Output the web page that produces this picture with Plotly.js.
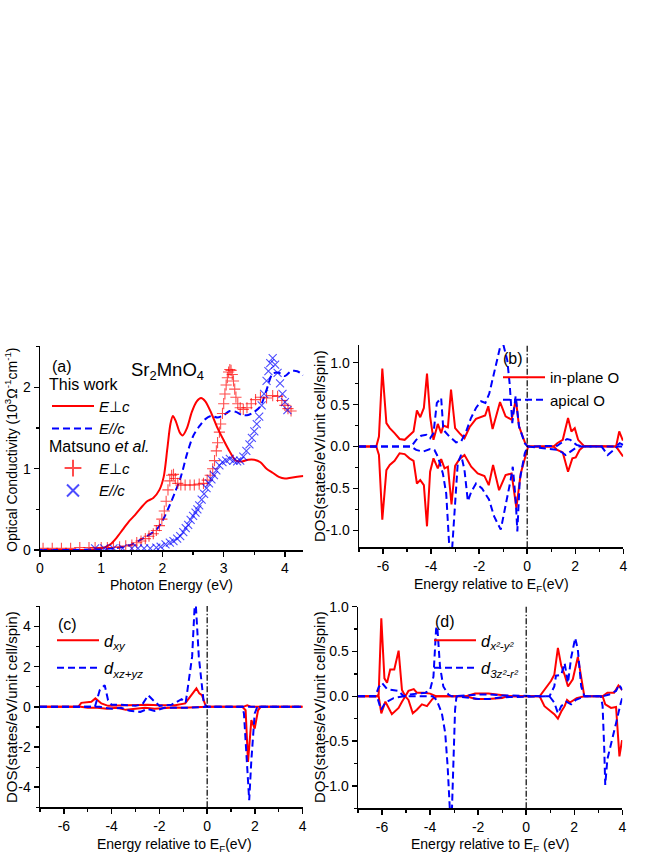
<!DOCTYPE html>
<html>
<head>
<meta charset="utf-8">
<script src="https://cdn.plot.ly/plotly-3.0.1.min.js"></script>
<style>html,body{margin:0;padding:0;background:#fff;}#chart{width:664px;height:860px;}</style>
</head>
<body>
<div id="chart"></div>
<script>
// ---------------- Panel (a): optical conductivity ----------------
const aCalcPerpE = [0, 0.5, 0.9, 1.05, 1.15, 1.25, 1.35, 1.45, 1.55, 1.65, 1.75, 1.85, 1.95, 2.02, 2.08, 2.13, 2.17, 2.22, 2.28, 2.33, 2.4, 2.48, 2.56, 2.63, 2.7, 2.8, 2.9, 3.0, 3.1, 3.2, 3.3, 3.4, 3.5, 3.6, 3.7, 3.8, 3.9, 4.0, 4.1, 4.2, 4.3];
const aCalcPerpS = [0, 0, 0.01, 0.03, 0.07, 0.15, 0.25, 0.35, 0.43, 0.52, 0.6, 0.64, 0.74, 0.9, 1.25, 1.55, 1.65, 1.58, 1.45, 1.41, 1.5, 1.7, 1.83, 1.87, 1.83, 1.68, 1.5, 1.35, 1.21, 1.1, 1.09, 1.11, 1.11, 1.08, 1.0, 0.95, 0.9, 0.88, 0.89, 0.9, 0.91];
const aCalcParE = [0, 0.5, 1.0, 1.3, 1.5, 1.7, 1.9, 2.0, 2.1, 2.2, 2.3, 2.4, 2.5, 2.6, 2.7, 2.8, 2.9, 3.0, 3.1, 3.2, 3.3, 3.4, 3.5, 3.6, 3.7, 3.8, 3.9, 4.0, 4.1, 4.2, 4.3];
const aCalcParS = [0, 0, 0.01, 0.03, 0.07, 0.15, 0.25, 0.36, 0.52, 0.7, 0.9, 1.18, 1.4, 1.52, 1.61, 1.65, 1.63, 1.66, 1.71, 1.7, 1.66, 1.66, 1.7, 1.77, 1.97, 2.17, 2.18, 2.14, 2.2, 2.2, 2.15];
const aExpPerpE = [0.05, 0.2, 0.35, 0.5, 0.65, 0.8, 0.9, 1.0, 1.1, 1.2, 1.3, 1.4, 1.5, 1.58, 1.65, 1.72, 1.78, 1.85, 1.9, 1.95, 1.99, 2.03, 2.06, 2.09, 2.12, 2.15, 2.18, 2.21, 2.25, 2.3, 2.37, 2.45, 2.52, 2.6, 2.67, 2.73, 2.78, 2.82, 2.85, 2.88, 2.9, 2.93, 2.95, 2.98, 3.0, 3.02, 3.04, 3.06, 3.08, 3.1, 3.12, 3.14, 3.16, 3.18, 3.2, 3.23, 3.27, 3.32, 3.38, 3.45, 3.52, 3.6, 3.7, 3.8, 3.88, 3.95, 4.0, 4.05, 4.1];
const aExpPerpS = [0.02, 0.02, 0.02, 0.02, 0.03, 0.03, 0.03, 0.03, 0.03, 0.03, 0.04, 0.05, 0.06, 0.09, 0.11, 0.14, 0.17, 0.2, 0.24, 0.3, 0.38, 0.48, 0.6, 0.74, 0.85, 0.92, 0.93, 0.88, 0.82, 0.8, 0.8, 0.8, 0.8, 0.81, 0.82, 0.86, 0.92, 1.0, 1.1, 1.22, 1.32, 1.45, 1.55, 1.68, 1.8, 1.92, 2.03, 2.12, 2.19, 2.22, 2.21, 2.16, 2.08, 1.98, 1.88, 1.8, 1.75, 1.73, 1.75, 1.8, 1.85, 1.88, 1.87, 1.9, 1.89, 1.84, 1.78, 1.74, 1.71];
const aExpParE = [0.9, 1.05, 1.2, 1.35, 1.5, 1.6, 1.7, 1.8, 1.9, 1.97, 2.05, 2.12, 2.18, 2.24, 2.29, 2.34, 2.38, 2.42, 2.46, 2.5, 2.54, 2.57, 2.6, 2.64, 2.68, 2.72, 2.76, 2.8, 2.84, 2.88, 2.93, 2.98, 3.04, 3.1, 3.16, 3.22, 3.27, 3.32, 3.37, 3.42, 3.46, 3.5, 3.54, 3.58, 3.62, 3.66, 3.7, 3.73, 3.76, 3.8, 3.84, 3.88, 3.92, 3.96, 4.0, 4.04];
const aExpParS = [0.02, 0.02, 0.02, 0.02, 0.02, 0.02, 0.02, 0.02, 0.03, 0.04, 0.07, 0.09, 0.11, 0.14, 0.17, 0.22, 0.27, 0.31, 0.37, 0.42, 0.46, 0.5, 0.55, 0.62, 0.69, 0.76, 0.82, 0.87, 0.92, 0.98, 1.04, 1.08, 1.1, 1.12, 1.1, 1.09, 1.1, 1.15, 1.22, 1.3, 1.38, 1.46, 1.55, 1.64, 1.78, 1.92, 2.08, 2.2, 2.3, 2.36, 2.28, 2.18, 2.05, 1.92, 1.82, 1.72];

// ---------------- Panel (b): O 2p DOS ----------------
const bInUpE = [-7, -6.28, -6.17, -6.03, -5.86, -5.72, -5.52, -5.31, -5.1, -4.9, -4.73, -4.59, -4.45, -4.3, -4.17, -4.04, -3.9, -3.72, -3.58, -3.49, -3.3, -3.17, -3.0, -2.82, -2.61, -2.4, -2.13, -1.75, -1.62, -1.44, -1.13, -0.9, -0.65, -0.47, -0.34, -0.07, 0.04, 1.1, 1.25, 1.48, 1.7, 1.84, 1.98, 2.12, 2.35, 3.7, 3.83, 3.97, 4];
const bInUpD = [0, 0, 0.12, 0.93, 0.28, 0.22, 0.16, 0.09, 0.08, 0.14, 0.18, 0.43, 0.35, 0.46, 0.87, 0.36, 0.08, 0.27, 0.16, 0.25, 0.23, 0.68, 0.22, 0.16, 0.1, 0.23, 0.33, 0.37, 0.48, 0.21, 0.53, 0.36, 0.32, 0.56, 0.24, 0.03, 0, 0, 0.04, 0.08, 0.34, 0.18, 0.22, 0.08, 0.01, 0, 0.18, 0.08, 0.08];
const bInDnE = [-7, -6.28, -6.17, -6.03, -5.86, -5.72, -5.52, -5.31, -5.1, -4.9, -4.73, -4.59, -4.45, -4.3, -4.17, -4.04, -3.9, -3.72, -3.58, -3.44, -3.3, -3.15, -3.0, -2.82, -2.61, -2.33, -2.06, -1.78, -1.6, -1.42, -1.17, -0.9, -0.65, -0.45, -0.27, -0.04, 0.04, 1.1, 1.25, 1.48, 1.7, 1.88, 2.02, 2.18, 2.35, 3.7, 3.83, 3.97, 4];
const bInDnD = [0, 0, -0.1, -0.87, -0.28, -0.22, -0.17, -0.08, -0.09, -0.14, -0.17, -0.44, -0.4, -0.46, -0.95, -0.3, -0.14, -0.26, -0.15, -0.26, -0.24, -0.69, -0.23, -0.15, -0.1, -0.24, -0.32, -0.35, -0.46, -0.22, -0.52, -0.34, -0.32, -0.73, -0.32, -0.06, 0, 0, -0.04, -0.07, -0.3, -0.14, -0.13, -0.04, 0, 0, -0.06, -0.11, -0.11];
const bApUpE = [-7, -4.83, -4.62, -4.41, -4.2, -4.04, -3.9, -3.76, -3.58, -3.49, -3.24, -2.96, -2.75, -2.54, -2.34, -2.13, -1.92, -1.74, -1.58, -1.38, -1.17, -1.05, -0.83, -0.73, -0.62, -0.48, -0.34, -0.1, 0.02, 1.25, 1.5, 1.66, 1.8, 2.05, 2.3, 3.6, 3.73, 3.85, 4];
const bApUpD = [0, 0, 0.08, 0.13, 0.14, 0.1, 0.16, 0.52, 0.58, 0.2, 0.12, 0.05, 0.06, 0.18, 0.34, 0.46, 0.54, 0.52, 0.63, 0.89, 1.15, 1.28, 1.03, 0.75, 0.28, 0.6, 0.24, 0.04, 0, 0.01, 0.06, 0.09, 0.08, 0.02, 0, 0, 0.01, 0.04, 0.02];
const bApDnE = [-7, -4.83, -4.62, -4.34, -4.04, -3.86, -3.72, -3.51, -3.37, -3.28, -3.2, -3.12, -3.0, -2.89, -2.75, -2.61, -2.47, -2.33, -2.13, -1.88, -1.59, -1.38, -1.1, -0.9, -0.69, -0.6, -0.48, -0.41, -0.31, -0.1, 0.02, 1.3, 1.6, 1.8, 2.1, 3.1, 3.2, 3.35, 3.6, 3.75, 4];
const bApDnD = [0, 0, -0.04, -0.06, -0.03, -0.04, -0.12, -0.32, -0.56, -1.2, -1.4, -1.2, -0.63, -0.2, -0.1, -0.28, -0.65, -0.54, -0.44, -0.5, -0.63, -0.83, -0.99, -0.71, -0.4, -0.24, -0.63, -1.01, -0.4, -0.08, 0, -0.04, -0.1, -0.06, 0, 0, -0.04, -0.1, -0.04, 0, 0];

// ---------------- Panel (c): Mn t2g DOS ----------------
const cXyUpE = [-7, -5.4, -5.27, -4.85, -4.68, -4.43, -4.15, -3.5, -3.0, -2.5, -2.0, -1.5, -1.34, -0.92, -0.57, -0.45, -0.33, -0.22, -0.08, 0, 1.5, 1.68, 1.85, 4];
const cXyUpD = [0, 0, 0.2, 0.25, 0.42, 0.17, 0.05, 0.08, 0.1, 0.1, 0.08, 0.08, 0.08, 0.17, 0.75, 0.92, 0.67, 0.58, 0.1, 0, 0, 0.08, 0, 0];
const cXyDnE = [-7, -5.3, -5.0, -4.6, -4.2, -3.8, -3.4, -3.0, -2.6, -2.2, -1.8, -1.4, -1.0, -0.5, 0, 1.47, 1.61, 1.71, 1.85, 1.99, 2.13, 2.24, 4];
const cXyDnD = [0, 0, -0.05, -0.05, -0.1, -0.05, -0.15, -0.1, -0.05, -0.1, -0.05, -0.03, -0.05, -0.02, 0, 0, -0.17, -2.74, -0.66, -1.08, -0.17, 0, 0];
const cXzUpE = [-7, -4.7, -4.5, -4.29, -4.15, -4.0, -3.6, -3.0, -2.7, -2.47, -2.26, -2.0, -1.5, -1.07, -0.9, -0.63, -0.5, -0.35, -0.14, 0, 4];
const cXzUpD = [0, 0, 0.83, 1.08, 0.33, 0.1, 0.1, 0.05, 0.15, 0.58, 0.33, 0.05, 0.1, 0.38, 0.2, 2.5, 5.6, 2.5, 0.17, 0, 0];
const cXzDnE = [-7, -4.5, -4.0, -3.6, -3.24, -2.8, -2.5, -2.2, -1.8, -1.0, 0, 1.47, 1.54, 1.66, 1.76, 1.85, 1.99, 2.1, 4];
const cXzDnD = [0, 0, -0.1, -0.05, -0.2, -0.25, -0.1, -0.2, -0.05, -0.05, 0, 0, -0.33, -2.66, -4.65, -2.66, -0.33, 0, 0];

// ---------------- Panel (d): Mn eg DOS ----------------
const dX2UpE = [-7, -6.21, -6.14, -6.03, -5.9, -5.79, -5.66, -5.49, -5.31, -5.17, -5.03, -4.9, -4.68, -4.55, -4.27, -4.0, -3.73, -2.5, -2.13, -1.57, -0.88, -0.7, 0.56, 0.76, 1.03, 1.17, 1.32, 1.46, 1.6, 1.74, 1.94, 2.15, 2.29, 2.42, 3.18, 3.38, 3.66, 3.84, 4];
const dX2UpD = [0, 0, 0.02, 0.87, 0.2, 0.15, 0.3, 0.3, 0.51, 0.07, 0, 0.06, 0.08, 0.04, 0.04, 0.03, 0, 0, 0.03, 0.03, 0.01, 0, 0, 0.07, 0.17, 0.24, 0.54, 0.34, 0.24, 0.11, 0.19, 0.44, 0.19, 0, 0, 0.04, 0.04, 0.12, 0.07];
const dX2DnE = [-7, -6.14, -6.03, -5.86, -5.59, -5.31, -5.17, -5.03, -4.9, -4.72, -4.55, -4.34, -4.13, -3.9, -3.73, -2.5, -2.1, -1.6, -1.0, -0.8, 0.56, 0.76, 1.03, 1.17, 1.32, 1.46, 1.6, 1.7, 1.82, 2.1, 2.42, 3.18, 3.29, 3.53, 3.74, 3.8, 3.88, 3.99];
const dX2DnD = [0, 0, -0.19, -0.06, -0.2, -0.13, -0.06, 0, -0.04, -0.19, -0.15, -0.09, -0.11, -0.03, 0, 0, -0.03, -0.03, -0.02, 0, 0, -0.11, -0.17, -0.2, -0.25, -0.17, -0.11, -0.04, -0.07, -0.02, 0, 0, -0.09, -0.13, -0.12, -0.41, -0.67, -0.49];
const dZ2UpE = [-7, -6.28, -6.14, -6.0, -5.79, -5.52, -5.31, -5.1, -4.83, -4.55, -4.2, -4.0, -3.86, -3.75, -3.7, -3.59, -3.45, -3.24, -3.1, -2.0, -1.5, -1.0, 0.97, 1.17, 1.24, 1.46, 1.6, 1.74, 1.87, 2.04, 2.15, 2.29, 2.42, 3.18, 3.46, 3.74, 3.87, 4];
const dZ2UpD = [0, 0, 0.1, 0.15, 0.08, 0.07, 0.06, 0, 0.02, 0.03, 0.04, 0.07, 0.22, 0.75, 0.78, 0.34, 0.11, 0.02, 0, 0.02, 0.02, 0.01, 0, 0.11, 0.23, 0.24, 0.37, 0.15, 0.43, 0.65, 0.52, 0.11, 0, 0, 0.02, 0.06, 0.13, 0.07];
const dZ2DnE = [-7, -6.21, -6.04, -5.86, -5.52, -5.1, -3.9, -3.73, -3.51, -3.37, -3.27, -3.17, -3.1, -3.03, -2.96, -2.9, -2.0, -1.5, -1.0, 0.97, 1.17, 1.32, 1.46, 1.67, 1.87, 2.07, 2.42, 3.11, 3.18, 3.25, 3.29, 3.38, 3.53, 3.74, 3.94, 4];
const dZ2DnD = [0, 0, -0.15, -0.07, -0.02, 0, 0, -0.04, -0.19, -0.41, -0.78, -1.3, -1.35, -0.67, -0.15, 0, -0.03, -0.03, -0.01, 0, -0.07, -0.19, -0.11, -0.06, -0.09, -0.04, 0, 0, -0.11, -0.6, -0.99, -0.7, -0.52, -0.3, -0.07, -0.02];

// ---------------- Tick labels ----------------
const aXTicks = [0, 1, 2, 3, 4];
const aXTickText = ['0', '1', '2', '3', '4'];
const aYTicks = [0, 1, 2];
const aYTickText = ['0', '1', '2'];
const eTicks = [-6, -4, -2, 0, 2, 4];
const eTickText = ['-6', '-4', '-2', '0', '2', '4'];
const dosTicks = [-1, -0.5, 0, 0.5, 1];
const dosTickText = ['-1.0', '-0.5', '0.0', '0.5', '1.0'];
const cYTicks = [-4, -2, 0, 2, 4];
const cYTickText = ['-4', '-2', '0', '2', '4'];
const fermiLevel = 0;

// ---------------- Layout helpers ----------------
const W = 664, H = 860;
const FONT = 'Liberation Sans, Arial, Helvetica, sans-serif';
const RED = '#ff0000', BLUE = '#0000ff';
const DASH = '7px,4px';
const px = v => v / W;
const py = v => 1 - v / H;

function mainAxis(range, dom, tickvals, ticktext, minorDtick, anchor) {
  return {
    domain: dom, range: range, anchor: anchor,
    tickmode: 'array', tickvals: tickvals, ticktext: ticktext,
    ticks: 'outside', ticklen: 5, tickwidth: 1.5, tickcolor: '#000',
    minor: {tickmode: 'linear', tick0: 0, dtick: minorDtick, ticks: 'outside', ticklen: 3, tickwidth: 1.2, tickcolor: '#000'},
    showline: true, linecolor: '#000', linewidth: 1.5,
    showgrid: false, zeroline: false,
    tickfont: {family: FONT, size: 14, color: '#000'},
    fixedrange: true
  };
}
function mirrorAxis(range, over, side, anchor, tickvals, minorDtick) {
  return {
    overlaying: over, side: side, anchor: anchor, range: range,
    tickmode: 'array', tickvals: tickvals, showticklabels: false,
    ticks: 'inside', ticklen: 5, tickwidth: 1.5, tickcolor: '#000',
    minor: {tickmode: 'linear', tick0: 0, dtick: minorDtick, ticks: 'inside', ticklen: 3, tickwidth: 1.2, tickcolor: '#000'},
    showline: true, linecolor: '#000', linewidth: 1.5,
    showgrid: false, zeroline: false, fixedrange: true
  };
}

const dom = {
  ax: [px(40), px(303.3)], ay: [py(550), py(346)],
  bx: [px(359), px(623.3)], by: [py(547.3), py(345)],
  cx: [px(40), px(302.7)], cy: [py(807.3), py(606)],
  dx: [px(358), px(622.3)], dy: [py(808.3), py(606.7)]
};
const rA_x = [0, 4.3], rA_y = [0, 2.51];
const rE = [-7, 4];
const rB_y = [-1.2, 1.21], rC_y = [-5, 5.02], rD_y = [-1.25, 1.0];

function line(x, y, xa, ya, color, dash, name, legend, show, group) {
  return {x: x, y: y, xaxis: xa, yaxis: ya, type: 'scatter', mode: 'lines',
    line: {color: color, width: 2, dash: dash}, name: name, legend: legend,
    showlegend: show, hoverinfo: 'skip', legendgroup: group};
}

const traces = [];
// (a)
const ta1 = line(aCalcPerpE, aCalcPerpS, 'x', 'y', RED, 'solid', '<i>E</i>⊥<i>c</i>', 'legend', true, 'a1');
ta1.line.shape = 'spline'; ta1.line.smoothing = 0.8;
const ta2 = line(aCalcParE, aCalcParS, 'x', 'y', BLUE, DASH, '<i>E//c</i>', 'legend', true, 'a2');
ta2.line.shape = 'spline'; ta2.line.smoothing = 0.8;
const ta3 = {x: aExpPerpE, y: aExpPerpS, xaxis: 'x', yaxis: 'y', type: 'scatter', mode: 'markers',
  marker: {symbol: 'cross-thin-open', size: 8, color: 'rgba(255,0,0,0.7)', line: {color: 'rgba(255,0,0,0.7)', width: 1.1}},
  name: '<i>E</i>⊥<i>c</i>', legend: 'legend5', legendgroup: 'a3', hoverinfo: 'skip'};
const ta4 = {x: aExpParE, y: aExpParS, xaxis: 'x', yaxis: 'y', type: 'scatter', mode: 'markers',
  marker: {symbol: 'x-thin-open', size: 8, color: 'rgba(0,0,255,0.7)', line: {color: 'rgba(0,0,255,0.7)', width: 1.1}},
  name: '<i>E//c</i>', legend: 'legend5', legendgroup: 'a4', hoverinfo: 'skip'};
traces.push(ta1, ta2, ta3, ta4);
// (b)
traces.push(line(bInUpE, bInUpD, 'x2', 'y2', RED, 'solid', 'in-plane O', 'legend2', true, 'b1'));
traces.push(line(bInDnE, bInDnD, 'x2', 'y2', RED, 'solid', 'in-plane O', 'legend2', false, 'b1'));
traces.push(line(bApUpE, bApUpD, 'x2', 'y2', BLUE, DASH, 'apical O', 'legend2', true, 'b2'));
traces.push(line(bApDnE, bApDnD, 'x2', 'y2', BLUE, DASH, 'apical O', 'legend2', false, 'b2'));
// (c)
traces.push(line(cXyUpE, cXyUpD, 'x3', 'y3', RED, 'solid', '<i>d<sub>xy</sub></i>', 'legend3', true, 'c1'));
traces.push(line(cXyDnE, cXyDnD, 'x3', 'y3', RED, 'solid', '<i>d<sub>xy</sub></i>', 'legend3', false, 'c1'));
traces.push(line(cXzUpE, cXzUpD, 'x3', 'y3', BLUE, DASH, '<i>d<sub>xz+yz</sub></i>', 'legend3', true, 'c2'));
traces.push(line(cXzDnE, cXzDnD, 'x3', 'y3', BLUE, DASH, '<i>d<sub>xz+yz</sub></i>', 'legend3', false, 'c2'));
// (d)
traces.push(line(dX2UpE, dX2UpD, 'x4', 'y4', RED, 'solid', '<i>d<sub>x²-y²</sub></i>', 'legend4', true, 'd1'));
traces.push(line(dX2DnE, dX2DnD, 'x4', 'y4', RED, 'solid', '<i>d<sub>x²-y²</sub></i>', 'legend4', false, 'd1'));
traces.push(line(dZ2UpE, dZ2UpD, 'x4', 'y4', BLUE, DASH, '<i>d<sub>3z²-r²</sub></i>', 'legend4', true, 'd2'));
traces.push(line(dZ2DnE, dZ2DnD, 'x4', 'y4', BLUE, DASH, '<i>d<sub>3z²-r²</sub></i>', 'legend4', false, 'd2'));

function legendBox(x, y, extra) {
  return Object.assign({x: x, y: y, xanchor: 'left', yanchor: 'top', bgcolor: 'rgba(0,0,0,0)',
    borderwidth: 0, font: {family: FONT, size: 15, color: '#000'}, tracegroupgap: 0,
    traceorder: 'grouped', itemsizing: 'trace', itemwidth: 42,
    itemclick: false, itemdoubleclick: false}, extra || {});
}

function ann(text, x, y, size, angle, extra) {
  return Object.assign({text: text, xref: 'paper', yref: 'paper', x: px(x), y: py(y),
    xanchor: 'center', yanchor: 'middle', showarrow: false, textangle: angle || 0,
    font: {family: FONT, size: size, color: '#000'}}, extra || {});
}

function fermiShape(xa, ya) {
  return {type: 'line', xref: xa, yref: ya + ' domain', x0: fermiLevel, x1: fermiLevel, y0: 0, y1: 1,
    line: {color: '#000', width: 1.2, dash: '6px,2px,1.5px,2px'}};
}

const titleFont = {family: FONT, size: 16, color: '#000'};
const bigFont = {family: FONT, size: 16.5, color: '#000'};

const layout = {
  width: W, height: H,
  margin: {l: 0, r: 0, t: 0, b: 0, pad: 0},
  paper_bgcolor: '#fff', plot_bgcolor: 'rgba(0,0,0,0)',
  font: {family: FONT, color: '#000'},
  showlegend: true,
  xaxis: mainAxis(rA_x, dom.ax, aXTicks, aXTickText, 0.5, 'y'),
  yaxis: mainAxis(rA_y, dom.ay, aYTicks, aYTickText, 0.5, 'x'),
  xaxis2: mainAxis(rE, dom.bx, eTicks, eTickText, 1, 'y2'),
  yaxis2: mainAxis(rB_y, dom.by, dosTicks, dosTickText, 0.25, 'x2'),
  xaxis3: mainAxis(rE, dom.cx, eTicks, eTickText, 1, 'y3'),
  yaxis3: mainAxis(rC_y, dom.cy, cYTicks, cYTickText, 1, 'x3'),
  xaxis4: mainAxis(rE, dom.dx, eTicks, eTickText, 1, 'y4'),
  yaxis4: mainAxis(rD_y, dom.dy, dosTicks, dosTickText, 0.25, 'x4'),
  xaxis5: mirrorAxis(rA_x, 'x', 'top', 'y', aXTicks, 0.5),
  yaxis5: mirrorAxis(rA_y, 'y', 'right', 'x', aYTicks, 0.5),
  xaxis6: mirrorAxis(rE, 'x2', 'top', 'y2', eTicks, 1),
  yaxis6: mirrorAxis(rB_y, 'y2', 'right', 'x2', dosTicks, 0.25),
  xaxis7: mirrorAxis(rE, 'x3', 'top', 'y3', eTicks, 1),
  yaxis7: mirrorAxis(rC_y, 'y3', 'right', 'x3', cYTicks, 1),
  xaxis8: mirrorAxis(rE, 'x4', 'top', 'y4', eTicks, 1),
  yaxis8: mirrorAxis(rD_y, 'y4', 'right', 'x4', dosTicks, 0.25),
  legend: legendBox(px(47), py(369), {title: {text: 'This work', side: 'top', font: titleFont}}),
  legend5: legendBox(px(47), py(431), {title: {text: 'Matsuno <i>et al.</i>', side: 'top', font: titleFont}, itemsizing: 'constant'}),
  legend2: legendBox(px(498), py(361)),
  legend3: legendBox(px(52), py(623), {tracegroupgap: 3, font: bigFont}),
  legend4: legendBox(px(429), py(623), {tracegroupgap: 3, font: bigFont}),
  shapes: [fermiShape('x2', 'y2'), fermiShape('x3', 'y3'), fermiShape('x4', 'y4')],
  annotations: [
    ann('(a)', 62, 366, 16),
    ann('Sr<sub>2</sub>MnO<sub>4</sub>', 167, 371, 18.5),
    ann('(b)', 513, 358, 16),
    ann('(c)', 67, 624, 16),
    ann('(d)', 445, 621, 16),
    ann('Photon Energy (eV)', 171.7, 585, 14),
    ann('Optical Conductivity (10<sup>3</sup>Ω<sup>-1</sup>cm<sup>-1</sup>)', 11, 450, 14, -90),
    ann('Energy relative to E<sub>F</sub>(eV)', 491.7, 585, 14),
    ann('DOS(states/eV/unit cell/spin)', 319, 446, 15, -90),
    ann('Energy relative to E<sub>F</sub>(eV)', 174, 845, 14),
    ann('DOS(states/eV/unit cell/spin)', 11, 707, 15, -90),
    ann('Energy relative to E<sub>F</sub> (eV)', 490, 845, 14),
    ann('DOS(states/eV/unit cell/spin)', 319, 707, 15, -90)
  ]
};

Plotly.newPlot('chart', traces, layout, {staticPlot: true, displayModeBar: false});
</script>
</body>
</html>
